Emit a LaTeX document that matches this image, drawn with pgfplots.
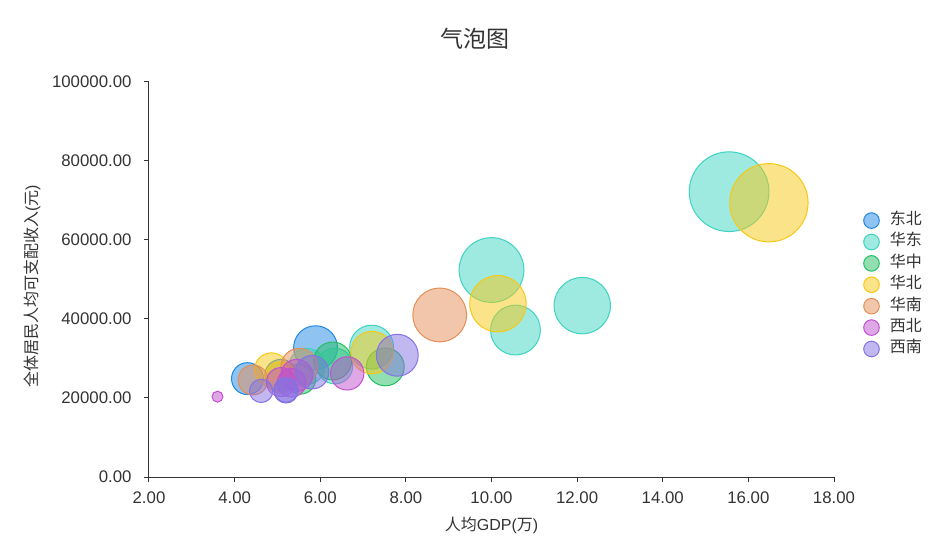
\documentclass[border=0pt]{standalone}
\usepackage{fontspec}
\setmainfont{Liberation Sans}
\newfontfamily\cjk{Noto Sans CJK SC}
\usepackage{pgfplots}
\pgfplotsset{compat=1.18}
\usepackage{pgfplotstable}

\definecolor{ctext}{RGB}{51,51,51}
\definecolor{cDB}{RGB}{30,136,229}
\definecolor{cHD}{RGB}{61,211,193}
\definecolor{cHZ}{RGB}{36,190,98}
\definecolor{cHB}{RGB}{247,200,20}
\definecolor{cHN}{RGB}{229,142,86}
\definecolor{cXB}{RGB}{193,80,208}
\definecolor{cXN}{RGB}{133,114,228}

% x = GDP per capita (10k yuan), y = disposable income per capita (yuan), r = bubble radius
\pgfplotstableread{
x y r
5.89 32738 22
5.08 25751 16
4.30 24902 16
}\dongbei
\pgfplotstableread{
x y r
15.55 72232 40
12.12 43390 28.3
10.00 52397 32.5
6.34 28103 18
10.56 37202 25
5.69 28017 18
7.20 32886 22
}\huadong
\pgfplotstableread{
x y r
5.54 24810 15.2
7.52 27881 19
6.29 29380 19
}\huazhong
\pgfplotstableread{
x y r
16.48 69434 39.3
10.15 43854 28.3
4.86 27136 17
5.07 25214 15.6
7.21 31497 21.3
}\huabei
\pgfplotstableread{
x y r
8.79 41029 27
4.43 24562 15
5.51 27904 18.5
}\huanan
\pgfplotstableread{
x y r
6.63 26226 16.7
3.60 20335 5.5
5.08 24037 14.5
5.45 25735 16
5.33 23845 14.3
}\xibei
\pgfplotstableread{
x y r
7.80 30824 21
5.81 26522 16.8
4.62 21795 11.7
5.20 22082 12.4
5.20 21744 12
}\xinan

\pgfplotsset{
  bub/.style={only marks, scatter, mark=*, forget plot,
    scatter/use mapped color={draw=#1, fill=#1},
    mark options={fill opacity=0.5, line width=1bp},
    visualization depends on={\thisrow{r}\as\rr},
    scatter/@pre marker code/.append style={/tikz/mark size=\rr}},
  legimg/.style={legend image code/.code={\draw[draw=#1, fill=#1, fill opacity=0.5, line width=1bp] (0bp,0bp) circle[radius=7.8bp];}}
}

\begin{document}
\begin{tikzpicture}
\begin{axis}[
  scale only axis, width=685bp, height=395bp,
  xmin=2, xmax=18, ymin=0, ymax=100000,
  xtick={2,4,...,18}, ytick={0,20000,40000,60000,80000,100000},
  scaled y ticks=false, scaled x ticks=false,
  axis x line*=bottom, axis y line*=left,
  axis line style={ctext, line width=1bp},
  tick style={ctext, line width=1bp},
  tick align=outside, major tick length=5bp,
  /pgf/number format/.cd, fixed, fixed zerofill, precision=2, 1000 sep={}, assume math mode=true,
  /pgfplots/.cd,
  tick label style={font=\fontsize{16.8bp}{19bp}\selectfont, text=ctext},
  xticklabel style={yshift=-6bp},
  yticklabel style={xshift=-9bp},
  title={\cjk 气泡图},
  title style={at={(axis description cs:0.5,1)}, anchor=center, yshift=37bp, xshift=-17bp, font=\fontsize{23bp}{27bp}\selectfont, text=ctext},
  xlabel={{\cjk 人均}GDP({\cjk 万})},
  xlabel style={at={(axis description cs:0.5,0)}, anchor=center, yshift=-48bp, font=\fontsize{16bp}{19bp}\selectfont, text=ctext},
  ylabel={{\cjk 全体居民人均可支配收入}({\cjk 元})},
  ylabel style={at={(axis description cs:0,0.5)}, anchor=center, xshift=-7bp, yshift=117bp, font=\fontsize{16bp}{19bp}\selectfont, text=ctext},
  legend style={at={(axis description cs:1,0.4866)}, anchor=west, xshift=29bp, draw=none, fill=none, inner sep=0pt,
    font=\fontsize{16bp}{19bp}\selectfont, text=ctext, row sep=4.8bp,
    /tikz/every odd column/.append style={column sep=10bp},
    nodes={inner sep=0pt, text height=11bp, text depth=3bp}},
  legend cell align=left,
  clip=false,
]
\addlegendimage{legimg=cDB}\addlegendentry{\cjk 东北}
\addlegendimage{legimg=cHD}\addlegendentry{\cjk 华东}
\addlegendimage{legimg=cHZ}\addlegendentry{\cjk 华中}
\addlegendimage{legimg=cHB}\addlegendentry{\cjk 华北}
\addlegendimage{legimg=cHN}\addlegendentry{\cjk 华南}
\addlegendimage{legimg=cXB}\addlegendentry{\cjk 西北}
\addlegendimage{legimg=cXN}\addlegendentry{\cjk 西南}
\addplot[bub=cDB] table[x=x,y=y] {\dongbei};
\addplot[bub=cHD] table[x=x,y=y] {\huadong};
\addplot[bub=cHZ] table[x=x,y=y] {\huazhong};
\addplot[bub=cHB] table[x=x,y=y] {\huabei};
\addplot[bub=cHN] table[x=x,y=y] {\huanan};
\addplot[bub=cXB] table[x=x,y=y] {\xibei};
\addplot[bub=cXN] table[x=x,y=y] {\xinan};
\end{axis}
\pgfresetboundingbox
\path[use as bounding box] ([xshift=-149bp,yshift=-69bp]current axis.south west) rectangle ++(938bp,546bp);
\end{tikzpicture}
\end{document}
